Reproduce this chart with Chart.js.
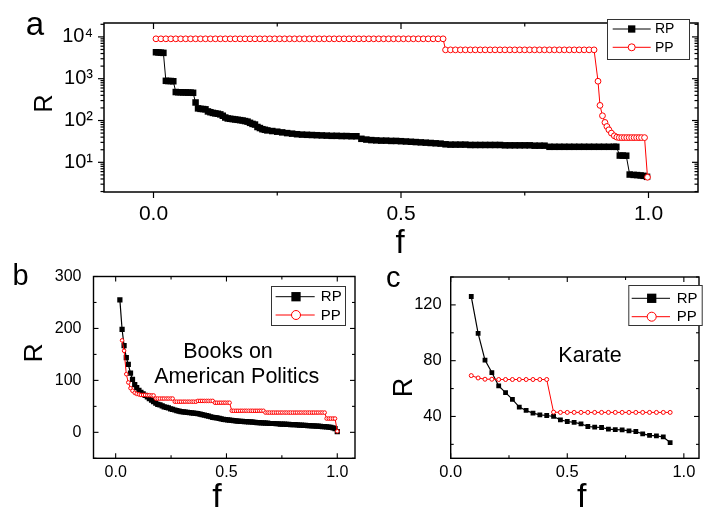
<!DOCTYPE html>
<html><head><meta charset="utf-8">
<script src="https://cdn.jsdelivr.net/npm/chart.js@4.4.1/dist/chart.umd.min.js"></script>
<style>
html,body{margin:0;padding:0;background:#fff;width:704px;height:508px;overflow:hidden;position:relative}
canvas{position:absolute}
</style></head><body>
<canvas id="ca" width="704" height="262" style="left:0;top:0;width:704px;height:262px"></canvas>
<canvas id="cb" width="360" height="262" style="left:0;top:250px;width:360px;height:262px"></canvas>
<canvas id="cc" width="344" height="262" style="left:360px;top:250px;width:344px;height:262px"></canvas>
<script>
// ---------- Panel a data ----------
const fRPa = [0.005,0.01,0.015,0.02,0.025,0.03,0.035,0.04,0.045,0.05,0.055,0.06,0.065,0.07,0.075,0.08,0.085,0.09,0.095,0.1,
0.105,0.11,0.115,0.12,0.125,0.13,0.135,0.14,0.145,0.15,0.155,0.16,0.165,0.17,0.175,0.18,0.185,0.19,0.195,0.2,
0.205,0.21,0.215,0.22,0.225,0.23,
0.24,0.25,0.26,0.27,0.28,0.29,0.3,0.31,0.32,0.33,0.34,0.35,0.36,0.37,0.38,0.39,0.4,0.41,
0.42,0.43,0.44,0.45,0.46,0.47,0.48,0.49,0.5,0.51,0.52,0.53,0.54,0.55,0.56,0.57,0.58,
0.59,0.6,0.61,0.62,0.63,0.64,0.65,0.66,0.67,0.68,0.69,0.7,0.71,0.72,0.73,0.74,0.75,0.76,0.77,0.78,0.79,
0.8,0.81,0.82,0.83,0.84,0.85,0.86,0.87,0.88,0.89,0.9,0.91,0.92,0.93,
0.935,0.942,0.948,0.955,0.962,0.97,0.977,0.984,0.99,0.997];
const rpA = [4300,4250,4200,4150,890,880,880,870,480,475,475,470,470,465,465,460,270,195,190,188,
185,165,158,152,148,145,140,130,118,112,110,108,106,104,102,100,97,94,88,83,
80,70,66,62,60,58,
56,54,52,50,48.5,47,46,45.5,45,44.5,44,43.5,43,43,42.5,42.5,42,42,
36.5,35,34,33.5,33,33,32.5,32.5,32,31.5,31,30.5,30,29.5,29,28.5,28,
27,26.5,26.5,26.5,26.5,26,26,26,26,26,26,26,25.5,25.5,25.5,25.5,25.5,25.5,25,25,25,
23.5,23.5,23.5,23.5,23.5,23.5,23.5,23.5,23.5,23.5,23.5,23.5,23.5,23.5,
23.5,14.5,14.5,14.4,5.1,5.0,4.95,4.85,4.75,4.5];
const fPPa = [0.005,0.015,0.025,0.035,0.045,0.055,0.065,0.075,0.085,0.095,
0.105,0.115,0.125,0.135,0.145,0.155,0.165,0.175,0.185,0.195,
0.205,0.215,0.225,0.235,0.245,0.255,0.265,0.275,0.285,0.295,
0.305,0.315,0.325,0.335,0.345,0.355,0.365,0.375,0.385,0.395,
0.405,0.415,0.425,0.435,0.445,0.455,0.465,0.475,0.485,0.495,
0.505,0.515,0.525,0.535,0.545,0.555,0.565,0.575,0.585,
0.59,0.6,0.61,0.62,0.63,0.64,0.65,0.66,0.67,0.68,0.69,0.7,0.71,0.72,0.73,0.74,0.75,0.76,0.77,0.78,0.79,
0.8,0.81,0.82,0.83,0.84,0.85,0.86,0.87,0.88,0.89,
0.898,0.902,0.907,0.912,0.916,0.92,0.925,0.931,0.936,0.941,0.946,0.951,0.956,0.961,0.966,0.971,0.976,0.981,0.986,0.992,0.998];
const ppA = [9000,9000,9000,9000,9000,9000,9000,9000,9000,9000,
9000,9000,9000,9000,9000,9000,9000,9000,9000,9000,
9000,9000,9000,9000,9000,9000,9000,9000,9000,9000,
9000,9000,9000,9000,9000,9000,9000,9000,9000,9000,
9000,9000,9000,9000,9000,9000,9000,9000,9000,9000,
9000,9000,9000,9000,9000,9000,9000,9000,9000,
4900,4900,4900,4900,4900,4900,4900,4900,4900,4900,4900,4900,4900,4900,4900,4900,4900,4900,4900,4900,4900,
4900,4900,4900,4900,4900,4900,4900,4900,4900,4900,
870,230,130,90,72,60,50,43,40,39,39,39,39,39,39,39,39,39,39,39,4.4];
const xTicksA = [0, 0.5, 1.0];
const xMinorA = [0.25, 0.75];
const yTicksA = [10, 100, 1000, 10000];
const yLabelsA = {10:'10\u00B9', 100:'10\u00B2', 1000:'10\u00B3', 10000:'10\u2074'};
const yMinorA = [2,3,4,5,6,7,8,9,20,30,40,50,60,70,80,90,200,300,400,500,600,700,800,900,2000,3000,4000,5000,6000,7000,8000,9000,20000];

// ---------- Panel b data (Books on American Politics) ----------
const fB = [0.019,0.029,0.038,0.048,0.057,0.067,0.076,0.086,0.095,0.105,
0.114,0.124,0.133,0.143,0.152,0.162,0.171,0.181,0.190,0.200,
0.210,0.219,0.229,0.238,0.248,0.257,0.267,0.276,0.286,0.295,
0.305,0.314,0.324,0.333,0.343,0.352,0.362,0.371,0.381,0.390,
0.400,0.410,0.419,0.429,0.438,0.448,0.457,0.467,0.476,0.486,
0.495,0.505,0.514,0.524,0.533,0.543,0.552,0.562,0.571,0.581,
0.590,0.600,0.610,0.619,0.629,0.638,0.648,0.657,0.667,0.676,
0.686,0.695,0.705,0.714,0.724,0.733,0.743,0.752,0.762,0.771,
0.781,0.790,0.800,0.810,0.819,0.829,0.838,0.848,0.857,0.867,
0.876,0.886,0.895,0.905,0.914,0.924,0.933,0.943,0.952,0.962,
0.971,0.981,0.990,1.000];
const rpB = [255,198,167,144,131,114,102,92,86,81,
77,74,71,68,65,62,59,56,54,53,
51,49,48,47,45,44,43,42,41,40,
39.5,39,38.5,38,37.5,37,36.5,36,35,34,
33,32,31,30,29,28.5,28,27,26,25,
24.5,24,23.5,23,22.5,22,21.5,21,21,20.5,
20.5,20,20,19.5,19,18.5,18.5,18,18,17.5,
17.5,17,17,17,16.5,16.5,16,16,16,15.5,
15.5,15,15,15,14.5,14,14,13.5,13.5,13,
13,12.5,12.5,12,12,11.5,11,11,10.5,10,
9.5,8.5,7,1.5];
const ppB = [177,157,112,96,85,80,76,74,73,72,
72,72,71.5,71.5,71,71,65,65,65,65,
65,65,65,65,65,59,59,59,59,59,
59,59,59,59,59,59,60.5,60.5,60.5,60.5,
60.5,60.5,60.5,60.5,57,57,57,57,57,57,
57,57,41.5,41.5,41.5,41.5,41.5,41.5,41.5,41.5,
41.5,41.5,41.5,41.5,41.5,41.5,41.5,41.5,38,38,
38,38,38,38,38,38,38,38,38,38,
38,38,38,38,38,38,38,38,38,38,
38,38,38,38,38,38,38,26.5,26.5,26.5,
26.5,26.5,2];
const xTicksB = [0, 0.5, 1.0];
const xMinorB = [0.25, 0.75];
const yTicksB = [0, 100, 200, 300];
const yMinorB = [-50, 50, 150, 250];

// ---------- Panel c data (Karate) ----------
const fC = [0.0882,0.1176,0.1471,0.1765,0.2059,0.2353,0.2647,0.2941,0.3235,0.3529,
0.3824,0.4118,0.4412,0.4706,0.5,0.5294,0.5588,0.5882,0.6176,0.6471,
0.6765,0.7059,0.7353,0.7647,0.7941,0.8235,0.8529,0.8824,0.9118,0.9412];
const rpC = [126,99.6,80.4,71.5,61.9,57.1,52.3,46.7,44.3,42.4,
41.2,40.7,40,37.6,36.4,35.7,34.7,32.8,32.3,32.1,
30.9,30.6,30.4,29.7,29.2,27.5,26.5,26.1,25.3,21.3];
const ppC = [69.3,67.6,66.7,66.7,66.5,66.5,66.5,66.5,66.5,66.5,
66.5,66.5,43.1,42.9,42.9,42.9,42.9,42.9,42.9,42.9,
42.9,42.9,42.9,42.9,42.9,42.9,42.9,42.9,42.9,42.9];
const xTicksC = [0, 0.5, 1.0];
const xMinorC = [0.25, 0.75];
const yTicksC = [40, 80, 120];
const yMinorC = [20, 60, 100, 140];

const FONT = '"Liberation Sans", Arial, Helvetica, sans-serif';
Chart.defaults.font.family = FONT;
Chart.defaults.color = '#000';

function pts(xs, ys) { return xs.map((x, i) => ({x: x, y: ys[i]})); }

function marker(ctx, style, x, y, s, fill, stroke) {
  ctx.beginPath();
  if (style === 'rect') { ctx.rect(x - s / 2, y - s / 2, s, s); ctx.fillStyle = fill; ctx.fill(); }
  else { ctx.arc(x, y, s, 0, Math.PI * 2); ctx.fillStyle = fill; ctx.fill(); ctx.strokeStyle = stroke; ctx.lineWidth = 1; ctx.stroke(); }
}

const deco = {
  id: 'deco',
  afterDraw(chart, args, o) {
    const ctx = chart.ctx, a = chart.chartArea, xs = chart.scales.x, ys = chart.scales.y;
    ctx.save();
    ctx.strokeStyle = '#000';
    const seg = (x1, y1, x2, y2) => { ctx.beginPath(); ctx.moveTo(x1, y1); ctx.lineTo(x2, y2); ctx.stroke(); };
    ctx.lineWidth = o.tickWidth;
    const doX = (vals, len) => vals.forEach(v => {
      const p = xs.getPixelForValue(v);
      seg(p, a.bottom, p, a.bottom + (o.bottomOut ? len : -len));
      seg(p, a.top, p, a.top + len);
    });
    const doY = (vals, len) => vals.forEach(v => {
      const p = ys.getPixelForValue(v);
      seg(a.left, p, a.left + (o.leftOut ? -len : len), p);
      seg(a.right, p, a.right - len, p);
    });
    doX(o.xMajor, o.majorLen); doX(o.xMinor, o.minorLen);
    doY(o.yMajor, o.majorLen); doY(o.yMinor, o.minorLen);
    ctx.lineWidth = o.frameWidth;
    ctx.strokeRect(a.left, a.top, a.right - a.left, a.bottom - a.top);
    // legend
    const L = o.legend;
    ctx.fillStyle = '#fff'; ctx.fillRect(L.x, L.y, L.w, L.h);
    ctx.lineWidth = 1; ctx.strokeStyle = '#333';
    ctx.strokeRect(L.x + 0.5, L.y + 0.5, L.w, L.h);
    chart.data.datasets.forEach((ds, i) => {
      const yy = L.rows[i];
      ctx.strokeStyle = ds.borderColor; ctx.lineWidth = 1;
      seg(L.x1, yy, L.x2, yy);
      marker(ctx, ds.pointStyle, L.mx, yy, L.ms[i], ds.pointBackgroundColor, ds.pointBorderColor);
      ctx.fillStyle = '#000'; ctx.font = L.size + 'px ' + FONT;
      ctx.textBaseline = 'middle'; ctx.textAlign = 'left';
      ctx.fillText(ds.label, L.tx, yy + 0.5);
    });
    // texts
    ctx.fillStyle = '#000';
    o.texts.forEach(t => {
      ctx.font = t.s + 'px ' + FONT;
      ctx.textAlign = 'center'; ctx.textBaseline = 'alphabetic';
      if (t.rot) {
        ctx.save(); ctx.translate(t.x, t.y); ctx.rotate(-Math.PI / 2);
        ctx.fillText(t.t, 0, 0); ctx.restore();
      } else ctx.fillText(t.t, t.x, t.y);
    });
    ctx.restore();
  }
};

function rpSet(data, r, lw) {
  return {label: 'RP', data: data, borderColor: '#000', borderWidth: lw, pointStyle: 'rect',
    pointRadius: r, pointBackgroundColor: '#000', pointBorderColor: '#000', pointBorderWidth: 0, order: 2};
}
function ppSet(data, r) {
  return {label: 'PP', data: data, borderColor: '#ff0000', borderWidth: 1, pointStyle: 'circle',
    pointRadius: r, pointBackgroundColor: '#fff', pointBorderColor: '#ff0000', pointBorderWidth: 1, order: 1};
}

function make(id, c) {
  return new Chart(document.getElementById(id), {
    type: 'line',
    data: {datasets: c.datasets},
    options: {
      responsive: false, animation: false, devicePixelRatio: 1,
      layout: {padding: c.pad},
      elements: {line: {tension: 0}},
      plugins: {legend: {display: false}, tooltip: {enabled: false}, deco: c.deco},
      scales: {
        x: {
          type: 'linear', min: c.xmin, max: c.xmax,
          grid: {display: false, drawTicks: false}, border: {display: false},
          afterBuildTicks: s => { s.ticks = c.xTicks.map(v => ({value: v})); },
          afterFit: s => { s.height = c.xH; },
          ticks: {autoSkip: false, maxRotation: 0, padding: c.xPad, font: {size: c.xFont},
            callback: v => Number(v).toFixed(1)}
        },
        y: {
          type: c.ylog ? 'logarithmic' : 'linear', min: c.ymin, max: c.ymax,
          grid: {display: false, drawTicks: false}, border: {display: false},
          afterBuildTicks: s => { s.ticks = c.yTicks.map(v => ({value: v})); },
          afterFit: s => { s.width = c.yW; },
          ticks: {autoSkip: false, padding: c.yPad, font: {size: c.yFont}, callback: c.yCb}
        }
      }
    },
    plugins: [deco]
  });
}

// Panel a
make('ca', {
  datasets: [rpSet(pts(fRPa, rpA), 4.6, 1), ppSet(pts(fPPa, ppA), 2.9)],
  pad: {left: 0, top: 10, right: 6, bottom: 0},
  xmin: -0.1, xmax: 1.1, ymin: 1.95, ymax: 21500, ylog: true,
  xTicks: xTicksA, yTicks: yTicksA, xH: 70, yW: 104,
  xPad: 9.4, yPad: 11, xFont: 21, yFont: 20,
  yCb: v => yLabelsA[v] || '',
  deco: {xMajor: xTicksA, xMinor: xMinorA, yMajor: yTicksA, yMinor: yMinorA,
    majorLen: 6, minorLen: 3.5, bottomOut: true, leftOut: true, tickWidth: 1.2, frameWidth: 1.5,
    legend: {x: 607, y: 19, w: 82, h: 40, rows: [29, 47.3], x1: 612.7, x2: 650.7, mx: 631.7, tx: 655,
      ms: [7.3, 3.5], size: 14},
    texts: [{t: 'a', x: 35, y: 35, s: 33}, {t: 'R', x: 52, y: 103.5, s: 25, rot: true},
      {t: 'f', x: 400, y: 253, s: 33}]}
});

// Panel b
make('cb', {
  datasets: [rpSet(pts(fB, rpB), 3.7, 1.2), ppSet(pts(fB.slice(1), ppB), 1.8)],
  pad: {left: 0, top: 26.5, right: 5, bottom: 0},
  xmin: -0.1, xmax: 1.08, ymin: -50, ymax: 300, ylog: false,
  xTicks: xTicksB, yTicks: yTicksB, xH: 53.7, yW: 93.5,
  xPad: 4.5, yPad: 12, xFont: 16, yFont: 16,
  yCb: v => String(v),
  deco: {xMajor: xTicksB, xMinor: xMinorB, yMajor: yTicksB, yMinor: yMinorB,
    majorLen: 5, minorLen: 3, bottomOut: false, leftOut: false, tickWidth: 1.1, frameWidth: 1.4,
    legend: {x: 271, y: 36, w: 74, h: 39, rows: [46.7, 65], x1: 275.6, x2: 314.7, mx: 296, tx: 320.8,
      ms: [9.3, 4.5], size: 15},
    texts: [{t: 'b', x: 20.5, y: 35, s: 29}, {t: 'R', x: 41.7, y: 103, s: 26.5, rot: true},
      {t: 'f', x: 217, y: 256.7, s: 34},
      {t: 'Books on', x: 228, y: 108.3, s: 21.5}, {t: 'American Politics', x: 236.7, y: 133.3, s: 21.5}]}
});

// Panel c
make('cc', {
  datasets: [rpSet(pts(fC, rpC), 3.4, 1.2), ppSet(pts(fC, ppC), 2)],
  pad: {left: 0, top: 27, right: 1, bottom: 0},
  xmin: 0, xmax: 1.065, ymin: 10, ymax: 140, ylog: false,
  xTicks: xTicksC, yTicks: yTicksC, xH: 53.7, yW: 90.7,
  xPad: 4.2, yPad: 9, xFont: 16.5, yFont: 16.5,
  yCb: v => String(v),
  deco: {xMajor: xTicksC, xMinor: xMinorC, yMajor: yTicksC, yMinor: yMinorC,
    majorLen: 5, minorLen: 3, bottomOut: false, leftOut: false, tickWidth: 1.1, frameWidth: 1.4,
    legend: {x: 268.3, y: 35, w: 73.4, h: 40, rows: [48.3, 66.7], x1: 271.7, x2: 310, mx: 291.7, tx: 316.7,
      ms: [9.3, 4.5], size: 15},
    texts: [{t: 'c', x: 33.3, y: 37.3, s: 29}, {t: 'R', x: 51.7, y: 137.5, s: 27, rot: true},
      {t: 'f', x: 221.7, y: 256.7, s: 34}, {t: 'Karate', x: 230, y: 111.7, s: 21.5}]}
});
</script>
</body></html>
